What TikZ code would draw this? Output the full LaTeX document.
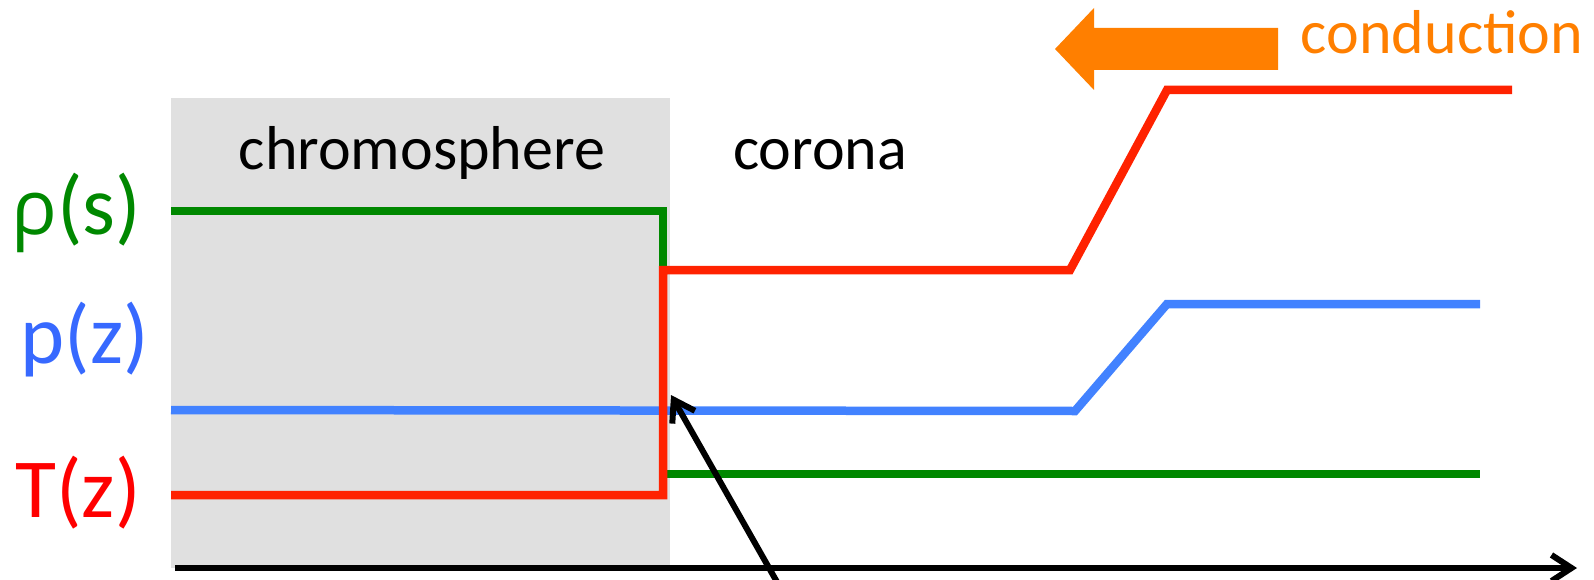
\documentclass[tikz,border=0pt]{standalone}
\usepackage{fontspec}
\setmainfont{Carlito}
\newfontfamily\grk{Open Sans}
\usetikzlibrary{arrows.meta}
\definecolor{cgreen}{RGB}{0,136,0}
\definecolor{cblue}{RGB}{66,130,255}
\definecolor{cred}{RGB}{255,34,0}
\definecolor{lred}{RGB}{255,0,0}
\definecolor{lblue}{RGB}{55,105,255}
\definecolor{corange}{RGB}{255,127,0}
\definecolor{cgrey}{RGB}{224,224,224}
\begin{document}
\begin{tikzpicture}[x=1pt,y=-1pt,
  curve/.style={line width=8.5pt,line join=miter},
  axisline/.style={line width=6pt,-{Straight Barb[length=20pt,width=26pt,line width=6pt]}},
  txt/.style={inner sep=0pt,anchor=base,font=\fontsize{62}{74}\selectfont},
  lbl/.style={inner sep=0pt,anchor=base,font=\fontsize{84}{100}\selectfont}]
\useasboundingbox (0,0) rectangle (1594,580);
% chromosphere region
\fill[cgrey] (171,98) rectangle (670,568);
% coordinates
\coordinate (g1) at (171,211);
\coordinate (g2) at (663,211);
\coordinate (g3) at (663,268);
\coordinate (g4) at (666,474);
\coordinate (g5) at (1480,474);
\coordinate (r1) at (171,495);
\coordinate (r2) at (663,495);
\coordinate (r3) at (663,270);
\coordinate (r4) at (1070,270);
\coordinate (r5) at (1167,90);
\coordinate (r6) at (1512,90);
\coordinate (b1) at (171,410);
\coordinate (b2) at (1075,411);
\coordinate (b3) at (1167,304);
\coordinate (b4) at (1480,304);
\coordinate (ax1) at (175,568);
\coordinate (ax2) at (1577,568);
\coordinate (ar1) at (777,582);
\coordinate (ar2) at (671,395);
% profiles
\draw[curve,cgreen] (g1) -- (g2) -- (g3);
\draw[curve,cgreen] (g4) -- (g5);
\draw[curve,cblue] (b1) -- (b2) -- (b3) -- (b4);
\draw[curve,cred] (r1) -- (r2) -- (r3) -- (r4) -- (r5) -- (r6);
% axis
\draw[axisline] (ax1) -- (ax2);
% pointer arrow
\draw[axisline] (ar1) -- (ar2);
% conduction arrow
\fill[corange] (1278,28) -- (1094,28) -- (1094,8) -- (1055,49) -- (1094,90) -- (1094,70) -- (1278,70) -- cycle;
% texts
\node[txt] (chromo) at (422,170) {chromosphere};
\node[txt] (corona) at (820,170) {corona};
\node[txt,text=corange] (cond) at (1442,54) {conduction};
\node[lbl,text=cgreen] (rho) at (76,234) {{\grk\fontsize{76}{90}\selectfont ρ}(s)};
\node[lbl,text=lblue] (pz) at (85,363) {p(z)};
\node[lbl,text=lred] (tz) at (78,517) {T(z)};
\end{tikzpicture}
\end{document}
